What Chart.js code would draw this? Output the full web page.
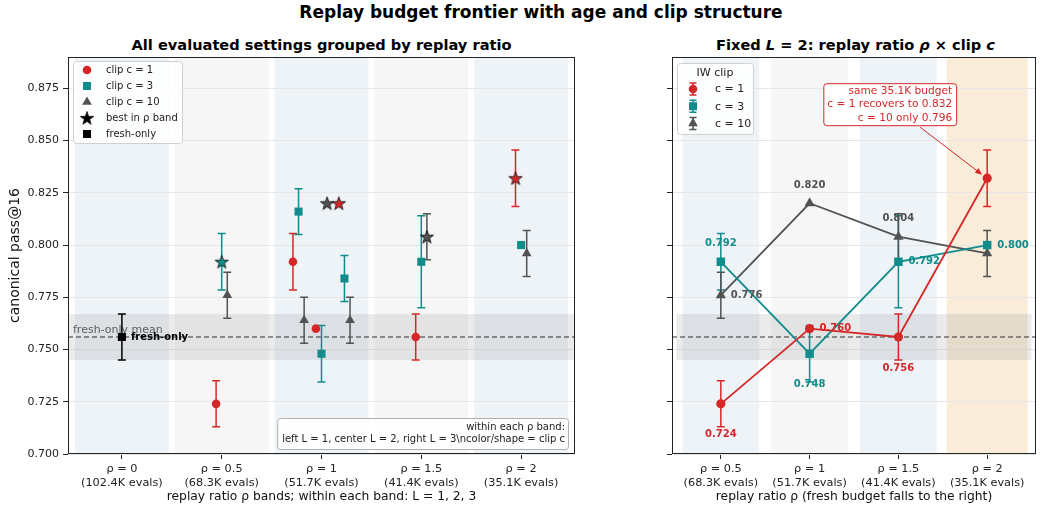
<!DOCTYPE html>
<html>
<head>
<meta charset="utf-8">
<title>Replay budget frontier</title>
<script src="https://cdn.jsdelivr.net/npm/chart.js@4.4.1/dist/chart.umd.min.js"></script>
<style>
  body { margin: 0; width: 1042px; height: 508px; position: relative; overflow: hidden; background: #fff; font-family: "DejaVu Sans", sans-serif; color: #000; }
  .title { position: absolute; left: 20px; top: 2px; width: 1042px; text-align: center; font-size: 17px; line-height: 21px; font-weight: bold; white-space: nowrap; }
  .sub { position: absolute; top: 36px; font-size: 14.6px; line-height: 18px; font-weight: bold; text-align: center; white-space: nowrap; }
  .box { position: absolute; top: 0; height: 508px; }
</style>
</head>
<body>
<div class="title">Replay budget frontier with age and clip structure</div>
<div class="sub" style="left:68px;width:507px">All evaluated settings grouped by replay ratio</div>
<div class="sub" style="left:672px;width:367px">Fixed <i>L</i> = 2: replay ratio <i>ρ</i> × clip <i>c</i></div>
<div class="box" style="left:0;width:590px"><canvas id="leftChart"></canvas></div>
<div class="box" style="left:600px;width:442px"><canvas id="rightChart"></canvas></div>
<script>
const RED = "#d62728";
const TEAL = "#108c8c";
const GREY = "#525252";

const rhoTicks = [0, 0.5, 1, 1.5, 2];
const rhoText = ["ρ = 0", "ρ = 0.5", "ρ = 1", "ρ = 1.5", "ρ = 2"];
const evalText = ["(102.4K evals)", "(68.3K evals)", "(51.7K evals)", "(41.4K evals)", "(35.1K evals)"];
const yTicks = [0.7, 0.725, 0.75, 0.775, 0.8, 0.825, 0.85, 0.875];

// left panel: one entry per evaluated (rho, L) setting
const settingRho = [0.5, 1, 1, 1, 1.5, 2];
const settingAge = [2, 1, 2, 3, 2, 2];
const clip1Mean = [0.724, 0.792, 0.760, 0.820, 0.756, 0.832];
const clip1Err = [0.011, 0.0135, 0, 0, 0.011, 0.0135];
const clip1Best = [false, false, false, true, false, true];
const clip3Mean = [0.792, 0.816, 0.748, 0.784, 0.792, 0.800];
const clip3Err = [0.0135, 0.011, 0.0135, 0.011, 0.022, 0];
const clip3Best = [true, false, false, false, false, false];
const clip10Mean = [0.776, 0.764, 0.820, 0.764, 0.804, 0.796];
const clip10Err = [0.011, 0.011, 0, 0.011, 0.011, 0.011];
const clip10Best = [false, false, true, false, true, false];
const freshRho = [0];
const freshMean = [0.756];
const freshErr = [0.011];

// right panel: L = 2 only
const fixedRho = [0.5, 1, 1.5, 2];
const fixedC1 = [0.724, 0.760, 0.756, 0.832];
const fixedC1Err = [0.011, 0, 0.011, 0.0135];
const fixedC3 = [0.792, 0.748, 0.792, 0.800];
const fixedC3Err = [0.0135, 0.0135, 0.022, 0];
const fixedC10 = [0.776, 0.820, 0.804, 0.796];
const fixedC10Err = [0.011, 0, 0.011, 0.011];

Chart.defaults.font.family = "'DejaVu Sans', sans-serif";
Chart.defaults.color = "#222";

const ageShift = { 1: -0.115, 2: 0, 3: 0.115 };

function starImage(fill, r) {
  const c = document.createElement("canvas");
  const s = Math.ceil(r * 2 + 4);
  c.width = s;
  c.height = s;
  const g = c.getContext("2d");
  g.beginPath();
  for (let i = 0; i < 10; i++) {
    const rad = i % 2 ? r * 0.4 : r;
    const a = -Math.PI / 2 + (i * Math.PI) / 5;
    const px = s / 2 + rad * Math.cos(a);
    const py = s / 2 + 0.6 + rad * Math.sin(a);
    if (i) g.lineTo(px, py);
    else g.moveTo(px, py);
  }
  g.closePath();
  g.fillStyle = fill;
  g.fill();
  g.lineWidth = 0.9;
  g.strokeStyle = "#1a1a1a";
  g.stroke();
  return c;
}

const radiusOf = { circle: 4.3, rect: 5.7, triangle: 5.6 };

function drawShape(ctx, shape, x, y, color) {
  if (shape === "star") {
    const img = starImage(color, 7);
    ctx.drawImage(img, x - img.width / 2, y - img.height / 2);
    return;
  }
  ctx.save();
  ctx.fillStyle = color;
  ctx.beginPath();
  if (shape === "circle") ctx.arc(x, y, 4.3, 0, Math.PI * 2);
  else if (shape === "rect") ctx.rect(x - 4, y - 4, 8, 8);
  else {
    ctx.moveTo(x, y - 5.6);
    ctx.lineTo(x + 4.85, y + 2.8);
    ctx.lineTo(x - 4.85, y + 2.8);
    ctx.closePath();
  }
  ctx.fill();
  ctx.restore();
}

function leftSet(label, mean, err, best, color, shape, shift) {
  const star = starImage(color, 7);
  return {
    label,
    data: mean.map((v, i) => ({ x: settingRho[i] + ageShift[settingAge[i]] + shift, y: v })),
    errors: err,
    showLine: false,
    pointStyle: best.map(b => (b ? star : shape)),
    pointRadius: radiusOf[shape],
    pointBackgroundColor: color,
    pointBorderColor: color,
    pointBorderWidth: 0,
    borderColor: color
  };
}

function rightSet(label, rho, mean, err, color, shape, labelPos) {
  return {
    label,
    data: mean.map((v, i) => ({ x: rho[i], y: v })),
    errors: err,
    labelPos,
    showLine: true,
    borderColor: color,
    borderWidth: 1.8,
    tension: 0,
    pointStyle: shape,
    pointRadius: radiusOf[shape] + 0.3,
    pointBackgroundColor: color,
    pointBorderColor: color,
    pointBorderWidth: 0
  };
}

const errorBars = {
  id: "errorBars",
  beforeDatasetsDraw(chart) {
    const { ctx } = chart;
    const y = chart.scales.y;
    chart.data.datasets.forEach((ds, i) => {
      if (!ds.errors) return;
      const meta = chart.getDatasetMeta(i);
      ctx.save();
      ctx.strokeStyle = ds.borderColor;
      ctx.lineWidth = 1.5;
      meta.data.forEach((pt, j) => {
        const e = ds.errors[j];
        if (!e) return;
        const v = ds.data[j].y;
        const top = y.getPixelForValue(v + e);
        const bot = y.getPixelForValue(v - e);
        ctx.beginPath();
        ctx.moveTo(pt.x, top);
        ctx.lineTo(pt.x, bot);
        ctx.moveTo(pt.x - 4, top);
        ctx.lineTo(pt.x + 4, top);
        ctx.moveTo(pt.x - 4, bot);
        ctx.lineTo(pt.x + 4, bot);
        ctx.stroke();
      });
      ctx.restore();
    });
  }
};

function drawBands(chart, half, colors) {
  const { ctx, chartArea: a } = chart;
  const x = chart.scales.x;
  ctx.save();
  chart.options.bandCenters.forEach((c, i) => {
    const h = half[i];
    const l = x.getPixelForValue(c - h);
    const r = x.getPixelForValue(c + h);
    ctx.fillStyle = colors[i];
    ctx.fillRect(l, a.top, r - l, a.bottom - a.top);
  });
  ctx.restore();
}

function drawFresh(chart, fromX, toX) {
  const { ctx, chartArea: a } = chart;
  const y = chart.scales.y;
  const top = y.getPixelForValue(freshMean[0] + freshErr[0]);
  const bot = y.getPixelForValue(freshMean[0] - freshErr[0]);
  const mid = y.getPixelForValue(freshMean[0]);
  ctx.save();
  ctx.fillStyle = "rgba(110,110,110,0.14)";
  ctx.fillRect(fromX, top, toX - fromX, bot - top);
  ctx.strokeStyle = "#333";
  ctx.lineWidth = 1;
  ctx.setLineDash([5, 3]);
  ctx.beginPath();
  ctx.moveTo(a.left, mid);
  ctx.lineTo(a.right, mid);
  ctx.stroke();
  ctx.restore();
  return mid;
}

function drawFrame(chart) {
  const { ctx, chartArea: a } = chart;
  ctx.save();
  ctx.strokeStyle = "#222";
  ctx.lineWidth = 1;
  ctx.strokeRect(Math.round(a.left) + 0.5, Math.round(a.top) + 0.5, Math.round(a.right - a.left) - 1, Math.round(a.bottom - a.top) - 1);
  ctx.restore();
}

function roundBox(ctx, x, y, w, h, stroke, fill) {
  ctx.save();
  ctx.beginPath();
  ctx.roundRect(x + 0.5, y + 0.5, w, h, 3);
  ctx.fillStyle = fill;
  ctx.fill();
  ctx.strokeStyle = stroke;
  ctx.lineWidth = 1;
  ctx.stroke();
  ctx.restore();
}

function xScale(min, max, titleText) {
  return {
    type: "linear",
    min,
    max,
    afterBuildTicks: s => { s.ticks = rhoTicks.filter(v => v >= min && v <= max).map(v => ({ value: v })); },
    afterFit: s => { s.height = 54; },
    ticks: {
      autoSkip: false,
      maxRotation: 0,
      padding: 3,
      font: { size: 11.3, lineHeight: 1.22 },
      color: "#222",
      callback: v => {
        const i = rhoTicks.indexOf(v);
        return [rhoText[i], evalText[i]];
      }
    },
    grid: { drawOnChartArea: false, tickLength: 5, tickColor: "#222" },
    border: { display: false },
    title: { display: true, text: titleText, font: { size: 12.3 }, color: "#111", padding: { bottom: 4 } }
  };
}

function yScale(showLabels, width) {
  return {
    min: 0.7,
    max: 0.89,
    afterBuildTicks: s => { s.ticks = yTicks.map(v => ({ value: v })); },
    afterFit: s => { s.width = width; },
    ticks: { font: { size: 11 }, color: "#222", padding: 4, callback: v => (showLabels ? v.toFixed(3) : "") },
    grid: { color: "#e6e6e6", tickColor: "#222", tickLength: 5 },
    border: { display: false },
    title: { display: showLabels, text: "canonical pass@16", font: { size: 14 }, color: "#111", padding: { top: 7 } }
  };
}

// left panel decorations
const leftDecor = {
  id: "leftDecor",
  beforeDraw(chart) {
    drawBands(chart, rhoTicks.map(() => 0.235), rhoTicks.map((v, i) => (i % 2 ? "#f6f6f6" : "#eef3f8")));
  },
  beforeDatasetsDraw(chart) {
    const { ctx, chartArea: a } = chart;
    const mid = drawFresh(chart, a.left, a.right);
    ctx.save();
    ctx.fillStyle = "rgba(70,70,70,0.85)";
    ctx.font = "11px 'DejaVu Sans'";
    ctx.textBaseline = "bottom";
    ctx.fillText("fresh-only mean", a.left + 5, mid - 1);
    ctx.restore();
  },
  afterDatasetsDraw(chart) {
    const { ctx, chartArea: a } = chart;
    drawFrame(chart);
    // label next to the fresh-only point
    const fresh = chart.getDatasetMeta(3).data[0];
    ctx.save();
    ctx.font = "bold 10px 'DejaVu Sans'";
    ctx.fillStyle = "#000";
    ctx.textBaseline = "middle";
    ctx.fillText("fresh-only", fresh.x + 9, fresh.y + 0.5);

    // legend
    const lx = a.left + 5, ly = a.top + 4;
    roundBox(ctx, lx, ly, 109, 82, "#d0d0d0", "rgba(255,255,255,0.85)");
    const entries = [
      ["circle", RED, "clip c = 1"],
      ["rect", TEAL, "clip c = 3"],
      ["triangle", GREY, "clip c = 10"],
      ["star", "#000", "best in ρ band"],
      ["rect", "#000", "fresh-only"]
    ];
    ctx.font = "10px 'DejaVu Sans'";
    entries.forEach((e, i) => {
      const yy = ly + 9 + i * 16;
      drawShape(ctx, e[0], lx + 14, yy, e[1]);
      ctx.fillStyle = "#222";
      ctx.fillText(e[2], lx + 33, yy + 0.5);
    });

    // note box in the lower right corner
    const note = ["within each ρ band:", "left L = 1, center L = 2, right L = 3\\ncolor/shape = clip c"];
    ctx.font = "10px 'DejaVu Sans'";
    const w = Math.max(...note.map(t => ctx.measureText(t).width)) + 8;
    const bx = a.right - 7 - w, by = a.bottom - 36;
    roundBox(ctx, bx, by, w, 31, "#b0b0b0", "rgba(255,255,255,0.9)");
    ctx.fillStyle = "#222";
    ctx.textAlign = "right";
    note.forEach((t, i) => ctx.fillText(t, a.right - 10, by + 9 + i * 12.5));
    ctx.restore();
  }
};

new Chart(document.getElementById("leftChart"), {
  type: "scatter",
  data: {
    datasets: [
      leftSet("clip c = 1", clip1Mean, clip1Err, clip1Best, RED, "circle", -0.028),
      leftSet("clip c = 3", clip3Mean, clip3Err, clip3Best, TEAL, "rect", 0),
      leftSet("clip c = 10", clip10Mean, clip10Err, clip10Best, GREY, "triangle", 0.028),
      {
        label: "fresh-only",
        data: freshMean.map((v, i) => ({ x: freshRho[i], y: v })),
        errors: freshErr,
        showLine: false,
        pointStyle: "rect",
        pointRadius: 5.7,
        pointBackgroundColor: "#000",
        pointBorderWidth: 0,
        borderColor: "#000"
      }
    ]
  },
  options: {
    responsive: true,
    maintainAspectRatio: false,
    animation: false,
    events: [],
    bandCenters: rhoTicks,
    layout: { padding: { top: 57, right: 15, left: 0, bottom: 0 } },
    scales: {
      x: xScale(-0.27, 2.27, "replay ratio ρ bands; within each band: L = 1, 2, 3"),
      y: yScale(true, 68)
    },
    plugins: { legend: { display: false }, tooltip: { enabled: false } }
  },
  plugins: [leftDecor, errorBars]
});

// right panel decorations
const rightDecor = {
  id: "rightDecor",
  beforeDraw(chart) {
    drawBands(chart, [0.216, 0.216, 0.216, 0.228], ["#eef3f8", "#f6f6f6", "#eef3f8", "#f9edda"]);
  },
  beforeDatasetsDraw(chart) {
    const x = chart.scales.x;
    drawFresh(chart, x.getPixelForValue(0.25), x.getPixelForValue(2.25));
  },
  afterDatasetsDraw(chart) {
    const { ctx, chartArea: a } = chart;
    drawFrame(chart);
    ctx.save();
    ctx.font = "bold 10px 'DejaVu Sans'";
    ctx.textBaseline = "middle";
    chart.data.datasets.forEach((ds, i) => {
      const meta = chart.getDatasetMeta(i);
      ctx.fillStyle = ds.borderColor;
      meta.data.forEach((pt, j) => {
        const pos = ds.labelPos[j];
        if (!pos) return;
        const t = ds.data[j].y.toFixed(3);
        if (pos === "right") {
          ctx.textAlign = "left";
          ctx.fillText(t, pt.x + 10, pt.y);
        } else {
          ctx.textAlign = "center";
          ctx.fillText(t, pt.x, pt.y + (pos === "above" ? -18 : 31));
        }
      });
    });

    // callout for the rho = 2 budget
    const p = chart.getDatasetMeta(0).data[3];
    const lines = ["same 35.1K budget", "c = 1 recovers to " + fixedC1[3].toFixed(3), "c = 10 only " + fixedC10[3].toFixed(3)];
    ctx.font = "10.6px 'DejaVu Sans'";
    const w = Math.max(...lines.map(t => ctx.measureText(t).width)) + 8;
    const right = p.x - 31;
    roundBox(ctx, right - w, p.y - 95, w, 42, RED, "rgba(255,255,255,0.95)");
    ctx.fillStyle = RED;
    ctx.textAlign = "right";
    lines.forEach((t, i) => ctx.fillText(t, right - 4, p.y - 87 + i * 13.3));
    // arrow
    const sx = p.x - 67, sy = p.y - 51, ex = p.x - 5, ey = p.y - 3.5;
    const ang = Math.atan2(ey - sy, ex - sx);
    ctx.strokeStyle = RED;
    ctx.lineWidth = 1;
    ctx.beginPath();
    ctx.moveTo(sx, sy);
    ctx.lineTo(ex - 5 * Math.cos(ang), ey - 5 * Math.sin(ang));
    ctx.stroke();
    ctx.beginPath();
    ctx.moveTo(ex, ey);
    ctx.lineTo(ex - 7 * Math.cos(ang) + 3 * Math.sin(ang), ey - 7 * Math.sin(ang) - 3 * Math.cos(ang));
    ctx.lineTo(ex - 7 * Math.cos(ang) - 3 * Math.sin(ang), ey - 7 * Math.sin(ang) + 3 * Math.cos(ang));
    ctx.closePath();
    ctx.fillStyle = RED;
    ctx.fill();

    // legend
    const lx = a.left + 5, ly = a.top + 6;
    roundBox(ctx, lx, ly, 76, 71, "#d0d0d0", "rgba(255,255,255,0.85)");
    ctx.font = "11px 'DejaVu Sans'";
    ctx.fillStyle = "#222";
    ctx.textAlign = "center";
    ctx.fillText("IW clip", lx + 38, ly + 10);
    ctx.textAlign = "left";
    const entries = [["circle", RED, "c = 1"], ["rect", TEAL, "c = 3"], ["triangle", GREY, "c = 10"]];
    entries.forEach((e, i) => {
      const yy = ly + 26 + i * 17.2;
      const mx = lx + 16;
      ctx.strokeStyle = e[1];
      ctx.lineWidth = 1.5;
      ctx.beginPath();
      ctx.moveTo(mx, yy - 6); ctx.lineTo(mx, yy + 6);
      ctx.moveTo(mx - 3.5, yy - 6); ctx.lineTo(mx + 3.5, yy - 6);
      ctx.moveTo(mx - 3.5, yy + 6); ctx.lineTo(mx + 3.5, yy + 6);
      ctx.stroke();
      drawShape(ctx, e[0], mx, yy, e[1]);
      ctx.fillStyle = "#222";
      ctx.fillText(e[2], lx + 38, yy + 0.5);
    });
    ctx.restore();
  }
};

new Chart(document.getElementById("rightChart"), {
  type: "scatter",
  data: {
    datasets: [
      rightSet("c = 1", fixedRho, fixedC1, fixedC1Err, RED, "circle", ["below", "right", "below", ""]),
      rightSet("c = 3", fixedRho, fixedC3, fixedC3Err, TEAL, "rect", ["above", "below", "right", "right"]),
      rightSet("c = 10", fixedRho, fixedC10, fixedC10Err, GREY, "triangle", ["right", "above", "above", ""])
    ]
  },
  options: {
    responsive: true,
    maintainAspectRatio: false,
    animation: false,
    events: [],
    bandCenters: fixedRho,
    layout: { padding: { top: 57, right: 3, left: 0, bottom: 0 } },
    scales: {
      x: xScale(0.225, 2.275, "replay ratio ρ (fresh budget falls to the right)"),
      y: yScale(false, 72)
    },
    plugins: { legend: { display: false }, tooltip: { enabled: false } }
  },
  plugins: [rightDecor, errorBars]
});
</script>
</body>
</html>
